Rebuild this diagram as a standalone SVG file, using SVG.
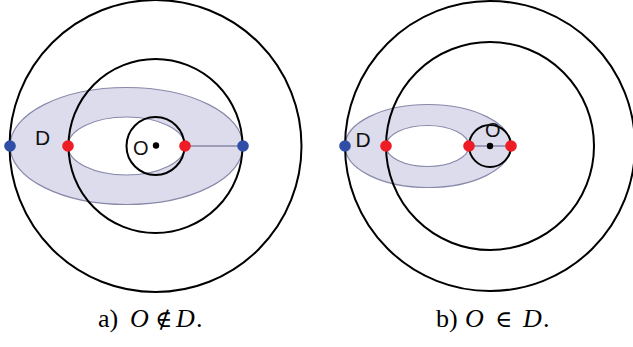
<svg xmlns="http://www.w3.org/2000/svg" width="633" height="347" viewBox="0 0 633 347">
<style>
.band{fill:#dcdcec;stroke:#8888aa;stroke-width:1.2}
.hole{fill:#ffffff;stroke:#8888aa;stroke-width:1.2}
.seg{stroke:#8888aa;stroke-width:1.5}
.ring{fill:none;stroke:#000;stroke-width:2}
.blue{fill:#2f4fa6}
.red{fill:#ee1c24}
.ctr{fill:#000}
.lbl{font-family:"Liberation Sans",Arial,sans-serif;fill:#111}
.cap{font-family:"Liberation Serif","Times New Roman",serif;font-size:26px;fill:#000}
.it{font-style:italic}
.rel{font-family:"DejaVu Serif",serif;font-size:23px}
</style>
<rect width="633" height="347" fill="#fff"/>
<g id="panel-a">
  <g id="a-region-D">
    <ellipse class="band" cx="126.5" cy="146" rx="116.5" ry="58.5"/>
    <ellipse class="hole" cx="126.5" cy="146" rx="58.5" ry="29"/>
  </g>
  <g id="a-connectors">
    <line class="seg" x1="185" y1="146" x2="243" y2="146"/>
  </g>
  <g id="a-circles">
    <circle class="ring" cx="155.5" cy="146" r="146"/>
    <circle class="ring" cx="155.5" cy="146" r="87"/>
    <circle class="ring" cx="155.5" cy="146" r="29"/>
  </g>
  <g id="a-points">
    <circle class="blue" cx="10" cy="146" r="5.8"/>
    <circle class="red" cx="68" cy="146" r="5.8"/>
    <circle class="red" cx="185" cy="146" r="5.8"/>
    <circle class="blue" cx="243" cy="146" r="5.8"/>
    <circle class="ctr" cx="156" cy="145.5" r="3.2"/>
  </g>
  <text class="lbl" x="35" y="145" font-size="21">D</text>
  <text class="lbl" x="133" y="155" font-size="20">O</text>
</g>
<g id="panel-b">
  <g id="b-region-D">
    <ellipse class="band" cx="428" cy="146" rx="83" ry="41.5"/>
    <ellipse class="hole" cx="427.5" cy="146" rx="41.5" ry="20.5"/>
  </g>
  <g id="b-connectors">
    <line class="seg" x1="469" y1="146" x2="511" y2="146"/>
  </g>
  <g id="b-circles">
    <circle class="ring" cx="490" cy="146" r="145"/>
    <circle class="ring" cx="490" cy="146" r="104"/>
    <circle class="ring" cx="490" cy="146" r="21"/>
  </g>
  <g id="b-points">
    <circle class="blue" cx="345" cy="146" r="5.8"/>
    <circle class="red" cx="386" cy="146" r="5.8"/>
    <circle class="red" cx="469" cy="146" r="5.8"/>
    <circle class="red" cx="511" cy="146" r="5.8"/>
    <circle class="ctr" cx="490" cy="146" r="3.2"/>
  </g>
  <text class="lbl" x="355.5" y="146.5" font-size="21">D</text>
  <text class="lbl" x="485" y="137" font-size="20">O</text>
</g>
<g id="captions">
  <text class="cap" y="327"><tspan x="98">a)</tspan><tspan x="130" class="it">O</tspan><tspan x="155" class="rel">∉</tspan><tspan x="176" class="it">D</tspan><tspan x="196">.</tspan></text>
  <text class="cap" y="327"><tspan x="436">b)</tspan><tspan x="465" class="it">O</tspan><tspan x="495" class="rel">∈</tspan><tspan x="523" class="it">D</tspan><tspan x="543">.</tspan></text>
</g>
</svg>
